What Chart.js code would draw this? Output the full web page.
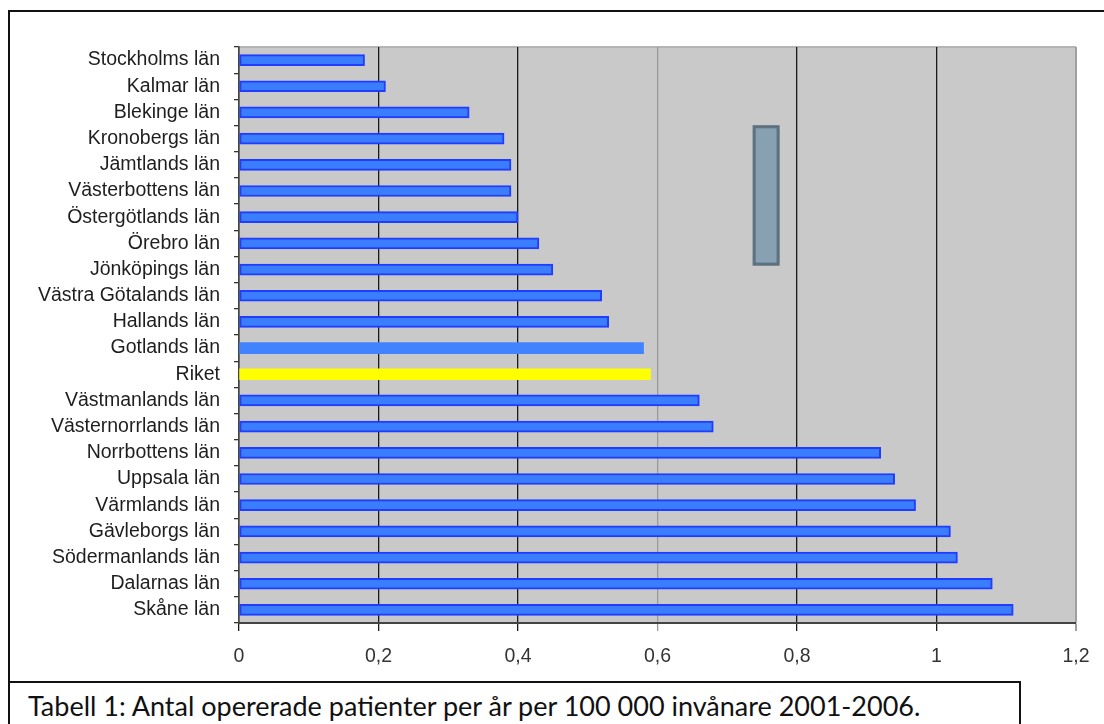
<!DOCTYPE html>
<html lang="sv">
<head>
<meta charset="utf-8">
<title>Opererade patienter per län</title>
<script src="https://cdn.jsdelivr.net/npm/chart.js@4/dist/chart.umd.min.js"></script>
<style>
  html, body { margin: 0; padding: 0; background: #fff; }
  body { width: 1104px; height: 724px; overflow: hidden; position: relative; }
  #frame {
    position: absolute; left: 8px; top: 10px; width: 1110px; height: 671px;
    border-top: 2px solid #111; border-left: 2px solid #111; box-sizing: border-box;
  }
  #caption {
    position: absolute; left: 8px; top: 681px; width: 1013px; height: 80px;
    border: 2px solid #111; box-sizing: border-box;
    font-family: Lato, "Open Sans", sans-serif; font-size: 27px; color: #111;
    padding: 6px 0 0 18px; white-space: nowrap;
  }
  #chart { position: absolute; left: 0; top: 0; }
</style>
</head>
<body>
<div id="frame"></div>
<div id="caption">Tabell 1: Antal opererade patienter per år per 100 000 invånare 2001-2006.</div>
<canvas id="chart" width="1104" height="724"></canvas>
<script>
// Län, ordered as listed from top to bottom
const regions = [
  'Stockholms län', 'Kalmar län', 'Blekinge län', 'Kronobergs län', 'Jämtlands län',
  'Västerbottens län', 'Östergötlands län', 'Örebro län', 'Jönköpings län',
  'Västra Götalands län', 'Hallands län', 'Gotlands län', 'Riket', 'Västmanlands län',
  'Västernorrlands län', 'Norrbottens län', 'Uppsala län', 'Värmlands län',
  'Gävleborgs län', 'Södermanlands län', 'Dalarnas län', 'Skåne län'
];

// Opererade patienter per år per 100 000 invånare
const patientsPer100k = [
  0.18, 0.21, 0.33, 0.38, 0.39,
  0.39, 0.40, 0.43, 0.45,
  0.52, 0.53, 0.58, 0.59, 0.66,
  0.68, 0.92, 0.94, 0.97,
  1.02, 1.03, 1.08, 1.11
];

// Value axis labels (Swedish decimal comma)
const xTickLabels = ['0', '0,2', '0,4', '0,6', '0,8', '1', '1,2'];

// Highlighted rows
const nationalLabel = 'Riket';
const borderlessLabel = 'Gotlands län';

// Loose grey-blue box that sits in the plot (value / category units)
const boxX = [0.7365, 0.775];
const boxY = [2.49, 7.85];

const BAR_FILL = '#3a7dff';
const BAR_EDGE = '#1f3cff';

const fills = regions.map(r => r === nationalLabel ? '#ffff00' : (r === borderlessLabel ? '#4183ff' : BAR_FILL));
const edges = regions.map(r => r === nationalLabel ? '#ffff00' : (r === borderlessLabel ? '#4183ff' : BAR_EDGE));
const edgeWidths = regions.map(r => (r === nationalLabel || r === borderlessLabel) ? 0 : 2);

const plotFrame = {
  id: 'plotFrame',
  beforeDraw(chart) {
    const { ctx, chartArea: a } = chart;
    ctx.save();
    ctx.fillStyle = '#c9c9c9';
    ctx.fillRect(a.left, a.top, a.right - a.left, a.bottom - a.top);
    ctx.strokeStyle = '#b4b4b4';
    ctx.lineWidth = 2;
    ctx.beginPath();
    ctx.moveTo(a.left, a.top);
    ctx.lineTo(a.right, a.top);
    ctx.stroke();
    ctx.restore();
  },
  afterDatasetsDraw(chart) {
    const { ctx } = chart;
    const xs = chart.scales.x, ys = chart.scales.y;
    const x0 = xs.getPixelForValue(boxX[0]), x1 = xs.getPixelForValue(boxX[1]);
    const y0 = ys.getPixelForValue(boxY[0]), y1 = ys.getPixelForValue(boxY[1]);
    ctx.save();
    ctx.fillStyle = '#87a1b3';
    ctx.fillRect(x0, y0, x1 - x0, y1 - y0);
    ctx.strokeStyle = '#5d717e';
    ctx.lineWidth = 3;
    ctx.strokeRect(x0 + 1.5, y0 + 1.5, x1 - x0 - 3, y1 - y0 - 3);
    ctx.restore();
  }
};

new Chart(document.getElementById('chart'), {
  type: 'bar',
  data: {
    labels: regions,
    datasets: [{
      data: patientsPer100k,
      backgroundColor: fills,
      borderColor: edges,
      borderWidth: edgeWidths,
      borderSkipped: false,
      barThickness: 11
    }]
  },
  options: {
    indexAxis: 'y',
    responsive: false,
    devicePixelRatio: 1,
    animation: false,
    events: [],
    layout: { padding: { left: 0, top: 47, right: 28, bottom: 41 } },
    plugins: { legend: { display: false }, tooltip: { enabled: false } },
    scales: {
      x: {
        min: 0, max: 1.2,
        ticks: {
          stepSize: 0.2,
          padding: 14,
          color: '#333',
          font: { family: '"Liberation Sans", Arial, sans-serif', size: 19.5 },
          callback: (v, i) => xTickLabels[i]
        },
        grid: {
          color: ctx => {
            const v = ctx.tick ? ctx.tick.value : 0;
            if (Math.abs(v - 0.6) < 1e-6) return '#9a9a9a';
            if (Math.abs(v - 1.2) < 1e-6) return '#a0a0a0';
            return '#1a1a1a';
          },
          lineWidth: ctx => (ctx.tick && Math.abs(ctx.tick.value - 1.2) < 1e-6) ? 2 : 1.3,
          tickLength: 8
        },
        border: { color: '#444', width: 2 },
        afterFit(scale) { scale.height = 60; }
      },
      y: {
        ticks: {
          autoSkip: false,
          padding: 14,
          color: '#1e1e1e',
          font: { family: '"Liberation Sans", Arial, sans-serif', size: 19.5 }
        },
        grid: {
          offset: true,
          drawOnChartArea: false,
          color: '#333',
          lineWidth: 1.3,
          tickLength: 5
        },
        border: { color: '#444', width: 1.5 },
        afterFit(scale) { scale.width = 239; }
      }
    }
  },
  plugins: [plotFrame]
});
</script>
</body>
</html>
